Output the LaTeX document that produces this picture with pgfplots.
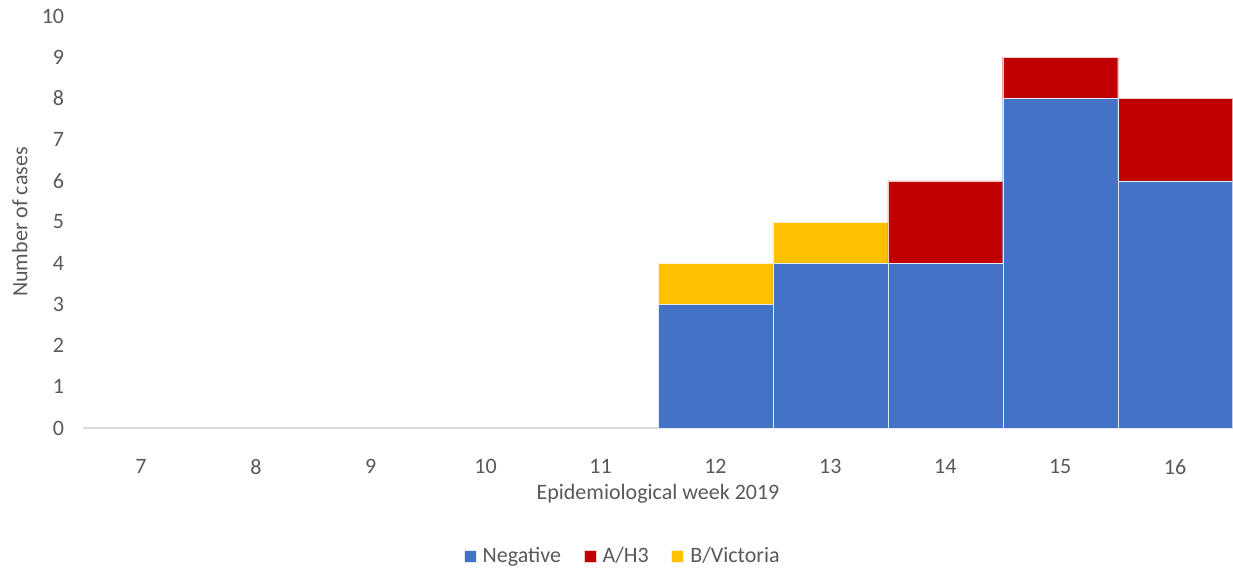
\documentclass[border=0pt]{standalone}
\usepackage{fontspec}
\setmainfont{Carlito}
\usepackage{pgfplots}
\pgfplotsset{compat=1.18}
\definecolor{cneg}{HTML}{4472C4}
\definecolor{cah3}{HTML}{C00000}
\definecolor{cbvic}{HTML}{FFC000}
\definecolor{ctxt}{HTML}{595959}
\definecolor{caxis}{HTML}{D9D9D9}
\begin{document}
\begin{tikzpicture}
\begin{axis}[
    scale only axis,
    width=861.75pt, height=309pt,
    xmin=6.5, xmax=16.5,
    ymin=0, ymax=10,
    ybar stacked, bar width=1,
    xtick={7,...,16}, ytick={0,...,10},
    major tick length=0,
    axis x line=bottom, axis y line=left,
    x axis line style={draw=caxis, line width=1pt, -},
    y axis line style={draw=none},
    font=\fontsize{16.5}{20}\selectfont,
    tick label style={font=\fontsize{16.5}{20}\selectfont, text=ctxt},
    /pgf/number format/assume math mode=true,
    yticklabel style={xshift=-11pt},
    xticklabel style={yshift=-20pt},
    xlabel={Epidemiological week 2019},
    ylabel={Number of cases},
    label style={text=ctxt},
    xlabel style={at={(axis description cs:0.5,-0.16)}, anchor=center},
    ylabel style={at={(axis description cs:-0.0553,0.5)}, anchor=center},
    legend columns=3,
    legend style={draw=none, fill=none, text=ctxt, font=\fontsize{16.5}{20}\selectfont,
        at={(axis description cs:0.4696,-0.311)}, anchor=center,
        /tikz/every even column/.append style={column sep=15pt}},
    legend image code/.code={\fill[#1] (0pt,-4.5pt) rectangle (9pt,4.5pt); \path (12pt,0pt);},
]
\addplot[fill=cneg, draw=white!85!cneg, line width=0.2pt] coordinates {(12,3) (13,4) (14,4) (15,8) (16,6)};
\addlegendentry{Negative}
\addplot[fill=cah3, draw=white!80!cah3, line width=0.2pt] coordinates {(12,0) (13,0) (14,2) (15,1) (16,2)};
\addlegendentry{A/H3}
\addplot[fill=cbvic, draw=white!80!cbvic, line width=0.2pt] coordinates {(12,1) (13,1) (14,0) (15,0) (16,0)};
\addlegendentry{B/Victoria}
\end{axis}
\pgfresetboundingbox
\path (-62.6pt,-106.5pt) rectangle (862.1pt,321pt);
\end{tikzpicture}
\end{document}
